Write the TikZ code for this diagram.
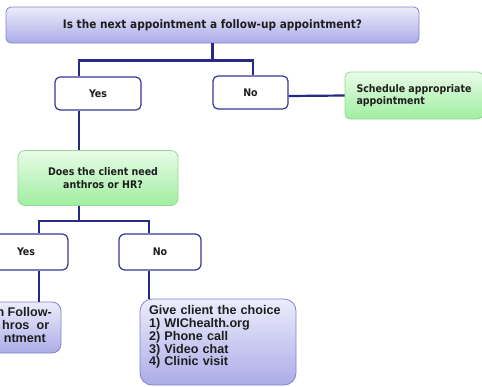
\documentclass[tikz,border=0pt]{standalone}
\usepackage{fontspec}
\setmainfont{DejaVu Sans Condensed}
\newfontfamily\arialf{Liberation Sans}
\definecolor{lavt}{RGB}{236,236,252}
\definecolor{lavb}{RGB}{172,172,232}
\definecolor{lavd}{RGB}{130,130,205}
\definecolor{grnt}{RGB}{232,252,232}
\definecolor{grnb}{RGB}{160,238,160}
\definecolor{grnd}{RGB}{150,215,150}
\definecolor{navy}{RGB}{55,55,150}
\definecolor{connc}{RGB}{40,40,135}
\definecolor{txt}{RGB}{30,30,30}
\tikzset{
  box/.style={rounded corners=5pt, inner sep=0pt, align=center, text=txt,
    font=\bfseries\fontsize{10.5}{12.5}\selectfont},
  lav/.style={box, draw=lavd, top color=lavt, bottom color=lavb, line width=0.8pt},
  grn/.style={box, draw=grnd, top color=grnt, bottom color=grnb, line width=0.8pt},
  wht/.style={box, draw=navy, fill=white, line width=1.2pt},
  conn/.style={draw=connc, line width=2.2pt},
  atext/.style={inner sep=0pt, text=txt, font=\arialf\bfseries\fontsize{12.6}{12.8}\selectfont}
}
\begin{document}
\begin{tikzpicture}[x=1pt,y=-1pt]
\useasboundingbox (0,0) rectangle (482,386);
\clip (0,0) rectangle (482,386);
% boxes
\node[lav, minimum width=413pt, minimum height=36pt, font=\bfseries\fontsize{11.7}{12}\selectfont] (top) at (212.5,25) {Is the next appointment a follow-up appointment?};
\node[wht, minimum width=86pt, minimum height=33pt] (yes1) at (98,93.5) {Yes};
\node[wht, minimum width=75pt, minimum height=33pt] (no1) at (250.5,92.5) {No};
\node[grn, minimum width=138pt, minimum height=47pt, align=left] (sched) at (414,95.5) {Schedule appropriate\\appointment};
\node[grn, rounded corners=7pt, minimum width=160pt, minimum height=55pt] (q) at (98,178) {\hspace*{10pt}Does the client need\\\hspace*{10pt}anthros or HR?};
\node[wht, rounded corners=6pt, minimum width=84pt, minimum height=36pt] (yes2) at (26,252) {Yes};
\node[wht, rounded corners=6pt, minimum width=82pt, minimum height=36pt] (no2) at (160,252) {No};
\node[lav, rounded corners=9pt, minimum width=102pt, minimum height=51pt] (lb) at (10,327.5) {};
\node[lav, rounded corners=12pt, minimum width=156pt, minimum height=86pt] (fin) at (218,342) {};
% texts in lower boxes
\node[atext, anchor=base east] (lb1) at (52,316) {n Follow-};
\node[atext, anchor=base west] (lb2) at (2,329) {\makebox[47pt][s]{hros or}};
\node[atext, anchor=base east] (lb3) at (46,342) {ntment};
\node[atext, text width=140pt, align=left] (fintext) at (219,337) {Give client the choice\\1) WIChealth.org\\2) Phone call\\3) Video chat\\4) Clinic visit};
% connectors
\draw[conn] (top.south) -- ++(0,17) -| ([xshift=-19pt]yes1.north);
\draw[conn] (top.south) -- ++(0,17) -| ([xshift=2.5pt]no1.north);
\draw[conn] ([yshift=-3.5pt]no1.east) -- (sched.west);
\draw[conn] ([xshift=-19pt]yes1.south) -- ([xshift=-19pt]q.north);
\draw[conn] ([xshift=-19pt]q.south) -- ++(0,15) -| ([xshift=13pt]yes2.north);
\draw[conn] ([xshift=-19pt]q.south) -- ++(0,15) -| ([xshift=-11pt]no2.north);
\coordinate (s1) at ([xshift=13pt]yes2.south);
\coordinate (s2) at ([xshift=-11pt]no2.south);
\draw[conn] (s1) -- (s1 |- lb.north);
\draw[conn] (s2) -- (s2 |- fin.north);
\end{tikzpicture}
\end{document}
